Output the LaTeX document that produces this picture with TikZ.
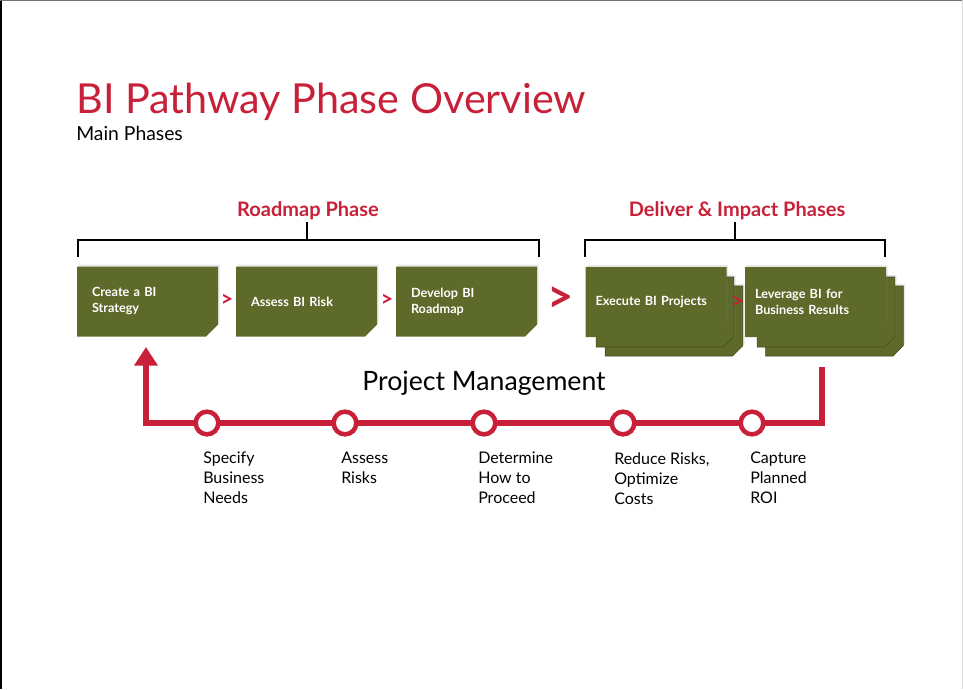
\documentclass[tikz,border=0pt]{standalone}
\usepackage{fontspec}
\setmainfont{Lato}
\usetikzlibrary{arrows.meta,shapes.misc,shadows}
\definecolor{pathred}{RGB}{200,32,56}
\definecolor{phasegreen}{RGB}{94,106,42}
\tikzset{
  phasebox/.style={chamfered rectangle, chamfered rectangle corners=south east,
    chamfered rectangle sep=4.5pt, fill=phasegreen, minimum width=96.75pt,
    minimum height=52.5pt, inner xsep=6.75pt, text width=83.25pt, align=left,
    text=white, font=\fontsize{9.5}{12}\selectfont\bfseries,
    drop shadow={shadow xshift=1.2pt, shadow yshift=1.5pt, opacity=0.18}},
  stackbox/.style={phasebox, draw=phasegreen!70!black, line width=0.4pt},
  milestone/.style={circle, draw=pathred, line width=3.4pt, fill=white,
    minimum size=17pt, inner sep=0pt},
  steplabel/.style={anchor=north west, align=left, inner sep=0pt,
    font=\fontsize{12}{15}\selectfont},
  phasetitle/.style={anchor=base, inner sep=0pt, text=pathred,
    font=\fontsize{15}{18}\selectfont\bfseries},
  bracket/.style={line width=1pt},
  nextsign/.style={inner sep=0pt, text=pathred, font=\fontsize{16}{16}\selectfont\bfseries},
}
\begin{document}
\begin{tikzpicture}[x=0.75pt,y=0.75pt,yscale=-1,xscale=1]
\useasboundingbox (0,0) rectangle (963,689);
% frame
\draw [line width=1.5pt] (1,0) -- (1,689) ;
\draw [color=black!55, line width=0.75pt] (0,0.5) -- (963,0.5) ;
\draw [color=black!15, line width=0.75pt] (962.5,0) -- (962.5,689) ;
% titles
\node [anchor=base west, inner sep=0pt, text=pathred, font=\fontsize{31}{37}\selectfont] (title) at (76,113) {BI Pathway Phase Overview};
\node [anchor=base west, inner sep=0pt, font=\fontsize{14.5}{17}\selectfont] (subtitle) at (76,140) {Main Phases};
\node [phasetitle] (roadmap) at (308,216) {Roadmap Phase};
\node [phasetitle] (deliver) at (737,216) {Deliver \& Impact Phases};
% brackets
\draw [bracket] (78,257) -- (78,240) -- (539,240) -- (539,257) ;
\draw [bracket] (307,240) -- (307,222) ;
\draw [bracket] (585,257) -- (585,240) -- (885,240) -- (885,257) ;
\draw [bracket] (735,240) -- (735,222) ;
% roadmap boxes
\node [phasebox] (strategy) at (147.5,301.5) {Create a BI\\Strategy};
\node [phasebox] (risk) at (306.5,301.5) {Assess BI Risk};
\node [phasebox] (roadmapbox) at (466.5,301.5) {Develop BI\\Roadmap};
\node [nextsign] (gt1) at (227,300) {>};
\node [nextsign] (gt2) at (387,300) {>};
\node [nextsign, font=\fontsize{34}{34}\selectfont\bfseries] (gt3) at (561,300) {>};
% deliver and impact boxes
\node [stackbox] (executec) at (674,321) {};
\node [stackbox] (executeb) at (665,312) {};
\node [phasebox, inner xsep=3pt, text width=90.75pt] (execute) at (656,302) {Execute BI Projects};
\node [nextsign] (gt4) at (738,302) {>};
\node [stackbox] (leveragec) at (834.5,321) {};
\node [stackbox] (leverageb) at (826,312) {};
\node [phasebox, inner xsep=3pt, text width=90.75pt] (leverage) at (815.5,302) {Leverage BI for\\Business Results};
% project management path
\node [anchor=base, inner sep=0pt, font=\fontsize{20}{24}\selectfont] (pm) at (484,390) {Project Management};
\coordinate (pmend) at (822,367);
\coordinate (pmcorner) at (822,423);
\coordinate (pmleft) at (146,423);
\coordinate (pmtip) at (146,347);
\draw [color=pathred, line width=4.5pt, -{Triangle[length=14pt,width=17pt]}] (pmend) -- (pmcorner) -- (pmleft) -- (pmtip) ;
\node [milestone] (needs) at (207,423) {};
\node [milestone] (assess) at (345,423) {};
\node [milestone] (proceed) at (484,423) {};
\node [milestone] (costs) at (623,423) {};
\node [milestone] (roi) at (752,423) {};
\node [steplabel] (needslabel) at (203,452) {Specify\\Business\\Needs};
\node [steplabel] (assesslabel) at (341,452) {Assess\\Risks};
\node [steplabel] (proceedlabel) at (478,452) {Determine\\How to\\Proceed};
\node [steplabel] (costslabel) at (614,452) {Reduce Risks,\\Optimize\\Costs};
\node [steplabel] (roilabel) at (750,452) {Capture\\Planned\\ROI};
\end{tikzpicture}
\end{document}
